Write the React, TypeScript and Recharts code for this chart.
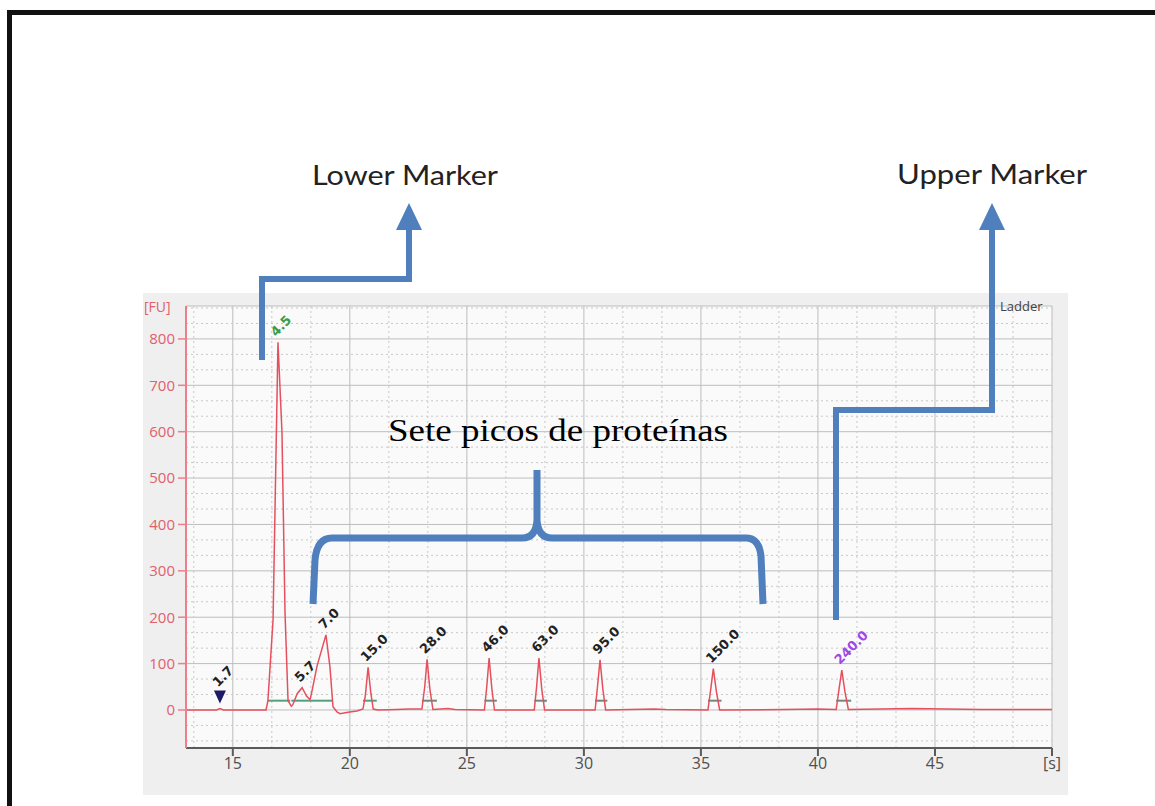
import React from "react";
import {
  ComposedChart,
  Line,
  Scatter,
  XAxis,
  YAxis,
  CartesianGrid,
  ReferenceLine,
} from "recharts";

// ---- Electropherogram trace (time [s], fluorescence [FU]) ----
const traceTime = [
  13.0, 14.3, 14.45, 14.6, 16.42, 16.5, 16.72, 16.93, 17.1, 17.16, 17.23, 17.36,
  17.5, 17.57, 17.75, 17.96, 18.15, 18.3, 18.38, 18.6, 18.98, 19.15, 19.28, 19.45,
  19.58, 19.92, 20.3, 20.56, 20.66, 20.78, 20.9, 21.0, 21.2, 22.0, 22.5, 23.08,
  23.2, 23.3, 23.42, 23.55, 24.2, 24.5, 25.75, 25.85, 25.95, 26.07, 26.18, 27.88,
  27.98, 28.08, 28.2, 28.32, 30.48, 30.58, 30.69, 30.81, 30.93, 33.0, 33.5, 35.3,
  35.42, 35.53, 35.66, 35.8, 38.5, 40.0, 40.78, 40.9, 41.02, 41.15, 41.3, 44.0,
  47.0, 50.0,
];
const traceFU = [
  0, 0, 3, 0, 0, 20, 195, 793, 600, 420, 210, 20,
  8, 12, 35, 48, 30, 22, 40, 95, 162, 93, 7, -4,
  -8, -5, -2, 2, 30, 92, 35, 2, 0, 1, 2, 2,
  50, 109, 45, 1, 3, 1, 0, 50, 112, 45, 0, 0,
  50, 112, 45, 0, 0, 50, 108, 45, 0, 2, 1, 0,
  45, 89, 40, 0, 1, 2, 1, 45, 86, 40, 1, 3,
  1, 1,
];

// ---- Peak annotations (size labels) ----
const peakLabels = ["1.7", "4.5", "5.7", "7.0", "15.0", "28.0", "46.0", "63.0", "95.0", "150.0", "240.0"];
const peakTime = [14.45, 16.93, 17.96, 18.98, 20.78, 23.3, 25.95, 28.08, 30.69, 35.53, 41.02];
const peakFU = [3, 793, 48, 162, 92, 109, 112, 112, 108, 89, 86];

// ---- Peak baseline segments ----
const segStart = [16.5, 17.5, 18.3, 20.56, 23.08, 25.75, 27.88, 30.48, 35.3, 40.78];
const segEnd = [17.45, 18.3, 19.28, 21.15, 23.72, 26.28, 28.42, 31.0, 35.88, 41.42];
const segLevel = 20;

// ---- Axes ----
const xTicks = [15, 20, 25, 30, 35, 40, 45, 50];
const yTicks = [0, 100, 200, 300, 400, 500, 600, 700, 800];
const xUnitLabel = "[s]";
const yUnitLabel = "[FU]";
const legendLabel = "Ladder";

const traceData = traceTime.map((t, i) => ({ t, v: traceFU[i] }));
const peakData = peakTime.map((t, i) => ({ t, v: peakFU[i], label: peakLabels[i] }));

// minor grid (thirds between major lines)
const minorY: number[] = [];
for (let k = -2; k <= 26; k++) {
  if (k % 3 !== 0) minorY.push((k * 100) / 3);
}
const minorX: number[] = [];
for (let k = 8; k <= 29; k++) {
  if (k % 3 !== 0) minorX.push((k * 5) / 3);
}

const labelColor = (label: string) =>
  label === "4.5" ? "#3d9a45" : label === "240.0" ? "#a246e6" : "#222222";

const PeakLabel = (props: any) => {
  const { cx, cy, payload } = props;
  if (cx == null || cy == null) return null;
  const isMarker = payload.label === "1.7";
  const ax = cx - 2;
  const ay = isMarker ? cy - 21 : cy - 5;
  return (
    <g>
      {isMarker && (
        <polygon
          points={`${cx - 6},${cy - 18} ${cx + 6},${cy - 18} ${cx},${cy - 5}`}
          fill="#1c1c66"
        />
      )}
      <text
        x={ax}
        y={ay}
        transform={`rotate(-45 ${ax} ${ay})`}
        fill={labelColor(payload.label)}
        fontFamily="DejaVu Sans, sans-serif"
        fontWeight="bold"
        fontSize={13}
      >
        {payload.label}
      </text>
    </g>
  );
};

const BLUE = "#4f7fbd";

export default function App() {
  return (
    <div
      style={{
        position: "absolute",
        left: 0,
        top: 0,
        width: 1155,
        height: 806,
        background: "#ffffff",
        overflow: "hidden",
      }}
    >
      {/* outer frame */}
      <div
        style={{
          position: "absolute",
          left: 7,
          top: 10,
          width: 1300,
          height: 900,
          borderTop: "5px solid #111",
          borderLeft: "5px solid #111",
        }}
      />
      {/* chart panel */}
      <div
        style={{
          position: "absolute",
          left: 143,
          top: 293,
          width: 925,
          height: 502,
          background: "#efefef",
        }}
      />
      <div style={{ position: "absolute", left: 143, top: 293 }}>
        <ComposedChart
          width={925}
          height={502}
          margin={{ top: 13, right: 16, bottom: 17, left: 0 }}
        >
          <CartesianGrid stroke="#bdbdbd" strokeWidth={1} fill="#fafafa" />
          {minorY.map((y) => (
            <ReferenceLine key={"my" + y} y={y} stroke="#c8c8c8" strokeDasharray="2 3" />
          ))}
          {minorX.map((x) => (
            <ReferenceLine key={"mx" + x} x={x} stroke="#c8c8c8" strokeDasharray="2 3" />
          ))}
          <XAxis
            type="number"
            dataKey="t"
            domain={[13, 50]}
            ticks={xTicks}
            allowDataOverflow
            tickFormatter={(v: number) => (v === 50 ? xUnitLabel : String(v))}
            tick={{ fill: "#505050", fontSize: 16, fontFamily: "Open Sans, sans-serif" }}
            tickSize={8}
            tickMargin={2}
            height={30}
            axisLine={{ stroke: "#5a5a5a", strokeWidth: 2 }}
            tickLine={{ stroke: "#5a5a5a", strokeWidth: 2 }}
          />
          <YAxis
            type="number"
            dataKey="v"
            domain={[-82, 871]}
            ticks={yTicks}
            allowDataOverflow
            width={43}
            tick={{ fill: "#e0606e", fontSize: 15, fontFamily: "Open Sans, sans-serif" }}
            tickSize={8}
            tickMargin={3}
            axisLine={{ stroke: "#ee7f8a", strokeWidth: 2 }}
            tickLine={{ stroke: "#ee7f8a", strokeWidth: 1.5 }}
          />
          {segStart.map((s, i) => (
            <ReferenceLine
              key={"seg" + i}
              segment={[
                { x: s, y: segLevel },
                { x: segEnd[i], y: segLevel },
              ]}
              stroke={i < 4 ? "#55a07c" : "#6f8a7c"}
              strokeWidth={2}
            />
          ))}
          <Line
            data={traceData}
            dataKey="v"
            type="linear"
            stroke="#e5505e"
            strokeWidth={1.5}
            dot={false}
            activeDot={false}
            isAnimationActive={false}
          />
          <Scatter data={peakData} dataKey="v" shape={PeakLabel} isAnimationActive={false} />
        </ComposedChart>
      </div>

      {/* annotation overlay */}
      <svg
        width={1155}
        height={806}
        style={{ position: "absolute", left: 0, top: 0, pointerEvents: "none" }}
      >
        <text x={144} y={312} fill="#e0606e" fontSize={14} fontFamily="Open Sans, sans-serif">
          {yUnitLabel}
        </text>
        <text x={1000} y={311} fill="#444444" fontSize={13} fontFamily="Open Sans, sans-serif">
          {legendLabel}
        </text>

        <text
          x={312}
          y={185}
          fontSize={27}
          fill="#222222"
          fontFamily="Lato, sans-serif"
          textLength={186}
          lengthAdjust="spacingAndGlyphs"
        >
          Lower Marker
        </text>
        <text
          x={897}
          y={184}
          fontSize={27}
          fill="#222222"
          fontFamily="Lato, sans-serif"
          textLength={190}
          lengthAdjust="spacingAndGlyphs"
        >
          Upper Marker
        </text>
        <text
          x={388}
          y={441}
          fontSize={31}
          fill="#000000"
          fontFamily="Liberation Serif, serif"
          textLength={340}
          lengthAdjust="spacingAndGlyphs"
        >
          Sete picos de proteínas
        </text>

        {/* lower marker arrow */}
        <path
          d="M262 360 L262 279 L409 279 L409 226"
          fill="none"
          stroke={BLUE}
          strokeWidth={6}
          strokeLinejoin="miter"
        />
        <polygon points="396,230 422,230 409,203" fill={BLUE} />

        {/* upper marker arrow */}
        <path
          d="M836 620 L836 410 L992 410 L992 226"
          fill="none"
          stroke={BLUE}
          strokeWidth={6}
          strokeLinejoin="miter"
        />
        <polygon points="979,230 1005,230 992,203" fill={BLUE} />

        {/* brace */}
        <path
          d="M313 604 L315 560 Q317 538 332 538 L522 538 Q536 538 537 520 L537 470 M537 520 Q538 538 552 538 L746 538 Q759 538 761 556 L763 604"
          fill="none"
          stroke={BLUE}
          strokeWidth={7}
          strokeLinecap="butt"
          strokeLinejoin="round"
        />
      </svg>
    </div>
  );
}
